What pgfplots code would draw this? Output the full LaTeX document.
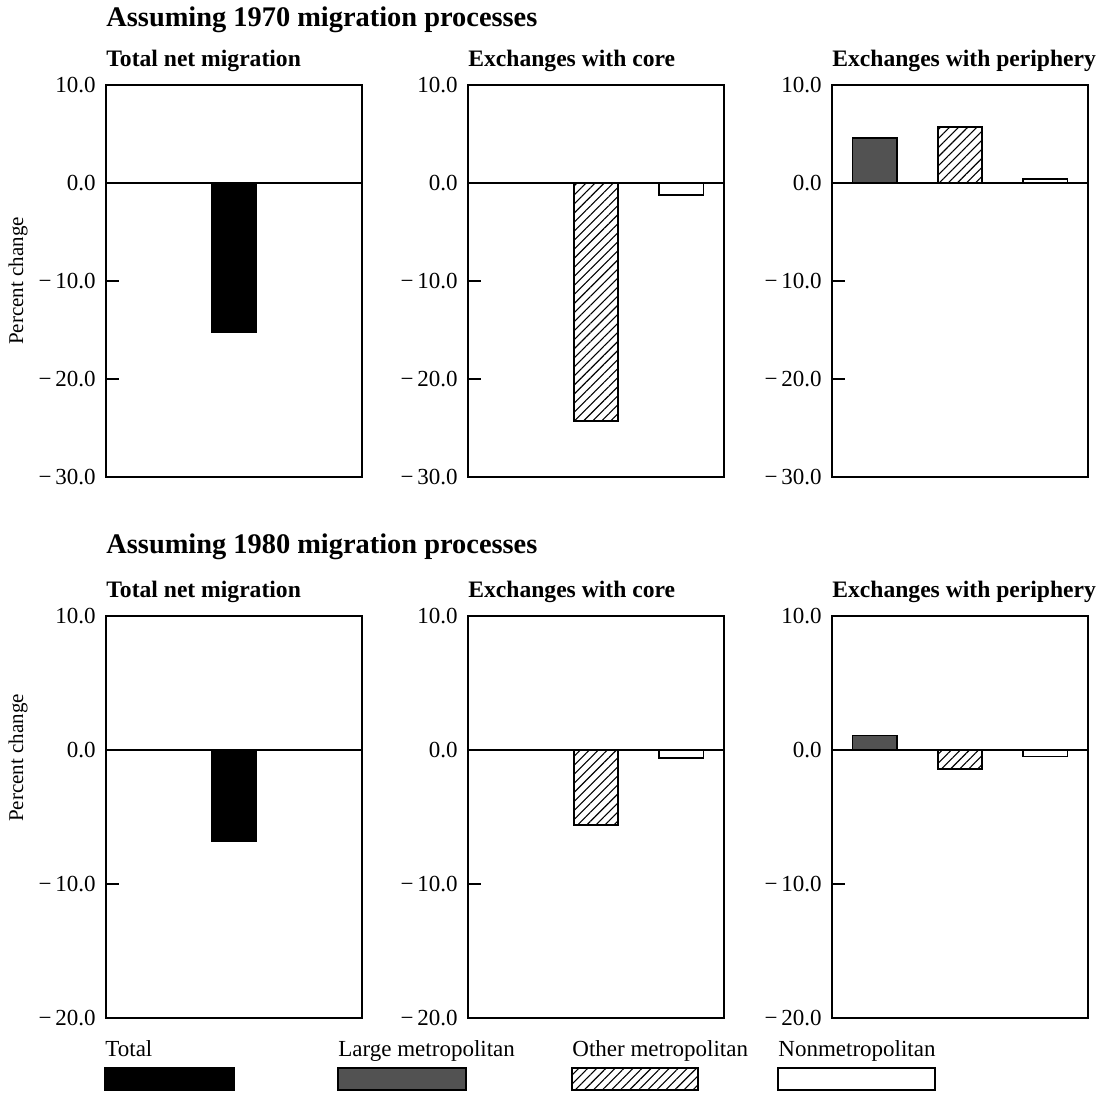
\documentclass[border=0pt]{standalone}
\usepackage{fontspec}
\setmainfont{Liberation Serif}
\usepackage{pgfplots}
\pgfplotsset{compat=1.18}
\usetikzlibrary{patterns.meta}

\tikzset{
  totalbar/.style={fill=black, draw=black, line width=0.7pt},
  largebar/.style={fill=black!68, draw=black, line width=0.7pt},
  otherbar/.style={pattern={Lines[angle=45,distance=3.2pt,line width=0.55pt]}, draw=black, line width=0.8pt},
  nonbar/.style={fill=white, draw=black, line width=0.8pt},
}
\pgfplotsset{
  panel/.style={
    scale only axis, width=128pt, anchor=north west,
    xmin=0.5, xmax=3.5, xtick=\empty,
    axis line style={line width=0.9pt},
    tick align=inside, ytick pos=left, major tick length=6.5pt,
    major tick style={line width=0.9pt, black},
    yticklabel style={font=\fontsize{11.5}{11.5}\selectfont, inner sep=0pt, xshift=-5pt},
  },
  toprow/.style={panel, height=196pt, ymin=-30, ymax=10,
    ytick={-30,-20,-10,0,10},
    yticklabels={{−\,30.0},{−\,20.0},{−\,10.0},{0.0},{10.0}}},
  botrow/.style={panel, height=201pt, ymin=-20, ymax=10,
    ytick={-20,-10,0,10},
    yticklabels={{−\,20.0},{−\,10.0},{0.0},{10.0}}},
  bar/.style={ybar, bar shift=0pt, bar width=0.52},
}

\begin{document}
\begin{tikzpicture}
\path[use as bounding box] (0,0) rectangle (557pt,-547.5pt);

% ---------- Titles ----------
\node[anchor=base west, inner sep=0pt, font=\bfseries\fontsize{14.2}{15}\selectfont] at (53pt,-13.5pt) {Assuming 1970 migration processes};
\node[anchor=base west, inner sep=0pt, font=\bfseries\fontsize{11.8}{12}\selectfont] at (53pt,-33.5pt) {Total net migration};
\node[anchor=base west, inner sep=0pt, font=\bfseries\fontsize{11.8}{12}\selectfont] at (234pt,-33.5pt) {Exchanges with core};
\node[anchor=base west, inner sep=0pt, font=\bfseries\fontsize{11.8}{12}\selectfont] at (416pt,-33.5pt) {Exchanges with periphery};

\node[anchor=base west, inner sep=0pt, font=\bfseries\fontsize{14.2}{15}\selectfont] at (53pt,-277pt) {Assuming 1980 migration processes};
\node[anchor=base west, inner sep=0pt, font=\bfseries\fontsize{11.8}{12}\selectfont] at (53pt,-299pt) {Total net migration};
\node[anchor=base west, inner sep=0pt, font=\bfseries\fontsize{11.8}{12}\selectfont] at (234pt,-299pt) {Exchanges with core};
\node[anchor=base west, inner sep=0pt, font=\bfseries\fontsize{11.8}{12}\selectfont] at (416pt,-299pt) {Exchanges with periphery};

\node[rotate=90, inner sep=0pt, font=\fontsize{10.5}{11}\selectfont] at (9pt,-140.5pt) {Percent change};
\node[rotate=90, inner sep=0pt, font=\fontsize{10.5}{11}\selectfont] at (9pt,-379pt) {Percent change};

% ---------- Top row (1970) ----------
\begin{axis}[toprow, at={(53pt,-42.5pt)}]
\addplot[black, line width=0.8pt, forget plot] coordinates {(0.5,0) (3.5,0)};
\addplot[bar, totalbar] coordinates {(2,-15.2)};
\end{axis}

\begin{axis}[toprow, at={(234pt,-42.5pt)}]
\addplot[black, line width=0.8pt, forget plot] coordinates {(0.5,0) (3.5,0)};
\addplot[bar, otherbar] coordinates {(2,-24.3)};
\addplot[bar, nonbar] coordinates {(3,-1.2)};
\end{axis}

\begin{axis}[toprow, at={(416pt,-42.5pt)}]
\addplot[black, line width=0.8pt, forget plot] coordinates {(0.5,0) (3.5,0)};
\addplot[bar, largebar] coordinates {(1,4.6)};
\addplot[bar, otherbar] coordinates {(2,5.7)};
\addplot[bar, nonbar] coordinates {(3,0.4)};
\end{axis}

% ---------- Bottom row (1980) ----------
\begin{axis}[botrow, at={(53pt,-308pt)}]
\addplot[black, line width=0.8pt, forget plot] coordinates {(0.5,0) (3.5,0)};
\addplot[bar, totalbar] coordinates {(2,-6.8)};
\end{axis}

\begin{axis}[botrow, at={(234pt,-308pt)}]
\addplot[black, line width=0.8pt, forget plot] coordinates {(0.5,0) (3.5,0)};
\addplot[bar, otherbar] coordinates {(2,-5.6)};
\addplot[bar, nonbar] coordinates {(3,-0.6)};
\end{axis}

\begin{axis}[botrow, at={(416pt,-308pt)}]
\addplot[black, line width=0.8pt, forget plot] coordinates {(0.5,0) (3.5,0)};
\addplot[bar, largebar] coordinates {(1,1.1)};
\addplot[bar, otherbar] coordinates {(2,-1.4)};
\addplot[bar, nonbar] coordinates {(3,-0.5)};
\end{axis}

% ---------- Legend ----------
\begin{scope}[font=\fontsize{11.5}{12}\selectfont]
\node[anchor=base west, inner sep=0pt] at (52.5pt,-528pt) {Total};
\draw[totalbar] (52.5pt,-534pt) rectangle (117pt,-545pt);
\node[anchor=base west, inner sep=0pt] at (169pt,-528pt) {Large metropolitan};
\draw[largebar] (169pt,-534pt) rectangle (233pt,-545pt);
\node[anchor=base west, inner sep=0pt] at (286pt,-528pt) {Other metropolitan};
\draw[otherbar] (286pt,-534pt) rectangle (349pt,-545pt);
\node[anchor=base west, inner sep=0pt] at (389pt,-528pt) {Nonmetropolitan};
\draw[nonbar] (389pt,-534pt) rectangle (467.5pt,-545pt);
\end{scope}
\end{tikzpicture}
\end{document}
